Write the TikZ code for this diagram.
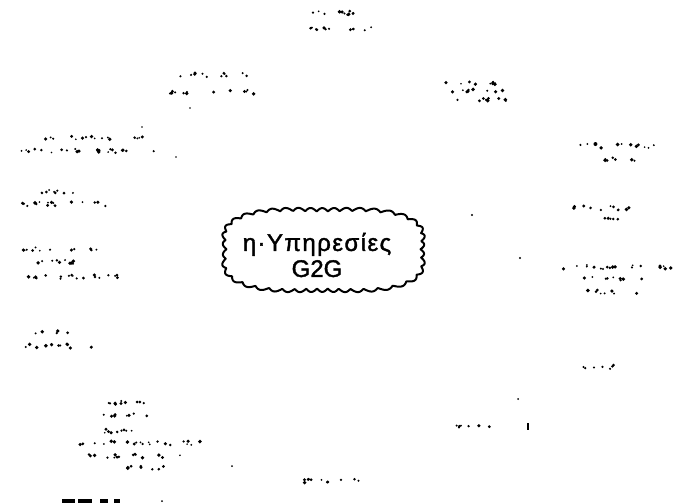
\documentclass[tikz,border=0pt]{standalone}
\usepackage{fontspec}
\setmainfont{Liberation Sans}
\newcommand\dotline[3]{%
  \pgfmathtruncatemacro\dN{(#2-#1)/6}%
  \foreach \k in {1,...,\dN}{%
    \pgfmathsetmacro\dX{#1+rnd*(#2-#1)}%
    \pgfmathsetmacro\dY{#3+(rnd-0.5)*4}%
    \pgfmathsetmacro\dR{0.9+rnd*1.1}%
    \fill[black] (\dX,\dY) circle[radius=\dR pt];}}
\newcommand\onedot[3]{\fill[black] (#1,#2) circle[radius=#3pt];}
\begin{document}
\begin{tikzpicture}[x=1pt,y=-1pt]
\useasboundingbox (0,0) rectangle (675,503);
\pgfmathsetseed{11}
\tikzset{g2gcloud/.style={draw=black, line width=2pt, line join=round},
         g2gtext/.style={font=\fontsize{24}{26}\selectfont, align=center, text=black}}
\node[minimum width=203pt, minimum height=84pt, inner sep=0pt] (cloud) at (323.5,250) {};
\draw[g2gcloud] plot[domain=0:360, samples=721, variable=\t]
  ({323.5+(97*(1+0.18*sin(2*\t)^2)+3.4*abs(sin(21*(\t-9.5*sin(2*\t))+25*sin(3*\t+40))))*cos(\t)},
   {250+(38.5*(1+0.18*sin(2*\t)^2)+3.4*abs(sin(21*(\t-9.5*sin(2*\t))+25*sin(3*\t+40))))*sin(\t)}) -- cycle;
\node[g2gtext] (title) at (317,255) {\addfontfeature{LetterSpace=6,FakeBold=1.6}η·Υπηρεσίες\\\addfontfeature{FakeBold=1.6}G2G};
% faded labels (illegible in the reference)
\dotline{300}{372}{13}
\dotline{307}{380}{29}
\dotline{180}{253}{75}
\dotline{170}{255}{92}
\onedot{190}{108}{0.9}
\dotline{445}{510}{83}
\dotline{450}{505}{91}
\dotline{455}{510}{100}
\dotline{45}{145}{138}
\dotline{20}{160}{151}
\onedot{142}{127}{0.8}
\onedot{176}{157}{0.8}
\dotline{580}{655}{146}
\dotline{590}{635}{159}
\dotline{30}{80}{192}
\dotline{20}{120}{204}
\dotline{573}{640}{208}
\dotline{593}{625}{219}
\onedot{472}{215}{1.1}
\dotline{22}{97}{249}
\dotline{27}{87}{262}
\dotline{8}{125}{277}
\onedot{520}{258}{1.1}
\dotline{555}{672}{267}
\dotline{582}{645}{279}
\dotline{585}{638}{292}
\dotline{35}{68}{333}
\dotline{20}{95}{346}
\dotline{577}{620}{367}
\onedot{518}{399}{1}
\dotline{95}{160}{403}
\dotline{100}{153}{415}
\dotline{103}{157}{431}
\dotline{75}{205}{443}
\dotline{87}{185}{456}
\dotline{115}{165}{468}
\onedot{232}{466}{1}
\dotline{445}{490}{426}
\fill[black] (527,423) rectangle (529,430);
\dotline{296}{366}{481}
\fill[black] (62,499) rectangle (75,503);
\fill[black] (78,499) rectangle (92,503);
\fill[black] (100,499) rectangle (108,503);
\fill[black] (114,499) rectangle (120,503);
\onedot{162}{501}{1}
\end{tikzpicture}
\end{document}
